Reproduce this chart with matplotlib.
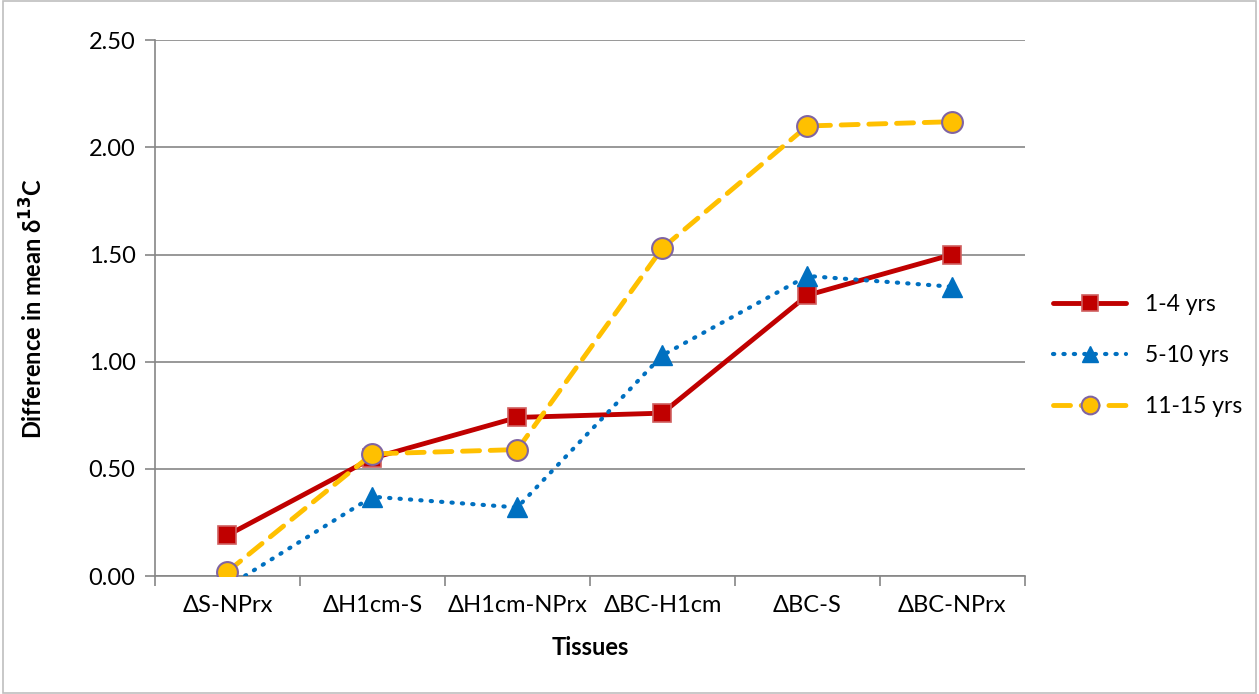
import numpy as np
import matplotlib.pyplot as plt

plt.rcParams['font.family'] = ['Lato', 'DejaVu Sans']

# data
tissues = ['ΔS-NPrx', 'ΔH1cm-S', 'ΔH1cm-NPrx', 'ΔBC-H1cm', 'ΔBC-S', 'ΔBC-NPrx']
yrs_1_4 = [0.19, 0.55, 0.74, 0.76, 1.31, 1.50]
yrs_5_10 = [-0.05, 0.37, 0.32, 1.03, 1.40, 1.35]
yrs_11_15 = [0.02, 0.57, 0.59, 1.53, 2.10, 2.12]
yticks = [0.0, 0.5, 1.0, 1.5, 2.0, 2.5]

fig = plt.figure(figsize=(12.59, 6.94), dpi=100)
ax = fig.add_axes([0.123, 0.170, 0.691, 0.772])

x = np.arange(len(tissues))

ax.plot(x, yrs_1_4, color='#c00000', lw=3.5, marker='s', markersize=13,
        markerfacecolor='#c00000', markeredgecolor='#d06060', markeredgewidth=1.2,
        label='1-4 yrs', zorder=3, solid_capstyle='round')
ax.plot(x, yrs_5_10, color='#0070c0', lw=3, linestyle=(0, (0.3, 2.2)), dash_capstyle='round',
        marker='^', markersize=14, markerfacecolor='#0070c0', markeredgecolor='#0070c0',
        label='5-10 yrs', zorder=3)
ax.plot(x, yrs_11_15, color='#ffc000', lw=3.5, linestyle=(0, (3.5, 2.2)), dash_capstyle='round',
        marker='o', markersize=15, markerfacecolor='#ffc000', markeredgecolor='#8064a2',
        markeredgewidth=1.5, label='11-15 yrs', zorder=3)

ax.set_xlim(-0.5, len(tissues) - 0.5)
ax.set_ylim(0, 2.5)
ax.set_yticks(yticks)
ax.set_yticklabels(['%.2f' % v for v in yticks])
ax.set_xticks(x)
ax.set_xticklabels(tissues)
ax.set_xticks(np.arange(len(tissues) + 1) - 0.5, minor=True)
ax.tick_params(axis='x', which='major', length=0, pad=14, labelsize=17)
ax.tick_params(axis='x', which='minor', length=7, color='#868686', width=1.2)
ax.tick_params(axis='y', length=7, color='#868686', width=1.2, pad=7, labelsize=17)

ax.grid(axis='y', color='#868686', lw=1.2, zorder=0)
ax.set_axisbelow(True)
for s in ['top', 'right']:
    ax.spines[s].set_visible(False)
for s in ['left', 'bottom']:
    ax.spines[s].set_color('#868686')
    ax.spines[s].set_linewidth(1.2)

ax.set_xlabel('Tissues', fontsize=17, fontweight='bold', labelpad=14)
ax.set_ylabel('Difference in mean δ$^{\\mathbf{13}}$C', fontsize=17, fontweight='bold', labelpad=30)

ax.legend(loc='center left', bbox_to_anchor=(1.022, 0.412), frameon=False, fontsize=16.5,
          handlelength=3.2, labelspacing=1.3, borderaxespad=0, markerscale=0.85)

fig.patches.append(plt.Rectangle((0.002, 0.002), 0.996, 0.996, transform=fig.transFigure,
                                 fill=False, edgecolor='#bfbfbf', lw=1.2))

fig.savefig('out.png', dpi=100)
